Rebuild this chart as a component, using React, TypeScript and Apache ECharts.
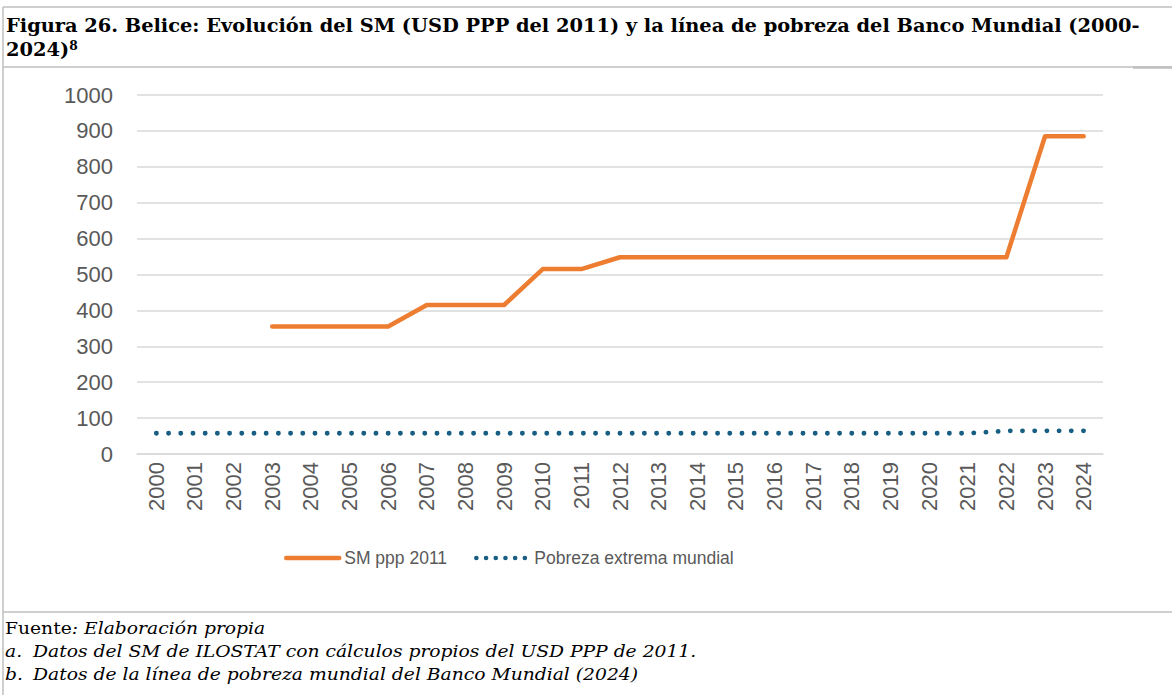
import React, { useEffect, useRef } from "react";
import * as echarts from "echarts";

const years = [
  "2000", "2001", "2002", "2003", "2004", "2005", "2006", "2007", "2008", "2009",
  "2010", "2011", "2012", "2013", "2014", "2015", "2016", "2017", "2018", "2019",
  "2020", "2021", "2022", "2023", "2024",
];

const smPpp2011 = [
  null, null, null, 355, 355, 355, 355, 415, 415, 415,
  515, 515, 548, 548, 548, 548, 548, 548, 548, 548,
  548, 548, 548, 885, 885,
];

const pobrezaExtrema = [
  57.8, 57.8, 57.8, 57.8, 57.8, 57.8, 57.8, 57.8, 57.8, 57.8,
  57.8, 57.8, 57.8, 57.8, 57.8, 57.8, 57.8, 57.8, 57.8, 57.8,
  57.8, 57.8, 64.5, 64.5, 64.5,
];

const seriesNames = ["SM ppp 2011", "Pobreza extrema mundial"];

const titleLine1 =
  "Figura 26. Belice: Evolución del SM (USD PPP del 2011) y la línea de pobreza del Banco Mundial (2000-";
const titleLine2 = "2024)";
const titleSup = "8";
const sourceLabel = "Fuente";
const sourceText = ": Elaboración propia";
const noteA = "Datos del SM de ILOSTAT con cálculos propios del USD PPP de 2011.";
const noteB = "Datos de la línea de pobreza mundial del Banco Mundial (2024)";

function measure(text: string, font: string): number {
  const c = document.createElement("canvas");
  const ctx = c.getContext("2d");
  if (!ctx) return 1;
  ctx.font = font;
  return ctx.measureText(text).width || 1;
}

export default function App() {
  const ref = useRef<HTMLDivElement>(null);

  useEffect(() => {
    if (!ref.current) return;
    const chart = echarts.init(ref.current, undefined, { renderer: "svg" });

    const serif = '"DejaVu Serif", "Liberation Serif", serif';
    const sans = '"Liberation Sans", Arial, sans-serif';
    const titleSize = 19;
    const footSize = 17.5;
    const titleW = measure(titleLine1, `bold ${titleSize}px ${serif}`);
    const titleScale = (1140 - 6) / titleW;
    const footW = measure(noteA, `italic ${footSize}px ${serif}`);
    const footScale = (697 - 33) / footW;

    const border = "#BFBFBF";
    const textColor = "#000000";
    const orange = "#ED7D31";
    const blue = "#175E82";

    chart.setOption({
      animation: false,
      backgroundColor: "#ffffff",
      grid: { left: 137, right: 69, top: 95, bottom: 241 },
      legend: {
        left: 279,
        top: 544,
        itemWidth: 53,
        itemHeight: 14,
        itemGap: 27,
        textStyle: { fontFamily: sans, fontSize: 17.5, color: "#595959" },
        data: [
          {
            name: seriesNames[0],
            itemStyle: { opacity: 0 },
            lineStyle: { color: orange, width: 4.5, cap: "round" },
          },
          {
            name: seriesNames[1],
            itemStyle: { opacity: 0 },
            lineStyle: { color: blue, width: 4.5, type: [0.1, 9.6], cap: "round" },
          },
        ],
      },
      xAxis: {
        type: "category",
        data: years,
        boundaryGap: true,
        axisLine: { show: true, lineStyle: { color: "#D9D9D9", width: 1.5 } },
        axisTick: { show: false },
        axisLabel: {
          rotate: 90,
          margin: 8,
          fontSize: 22,
          fontFamily: sans,
          color: "#595959",
          interval: 0,
        },
        splitLine: { show: false },
      },
      yAxis: {
        type: "value",
        min: 0,
        max: 1000,
        interval: 100,
        axisLine: { show: false },
        axisTick: { show: false },
        axisLabel: {
          margin: 24,
          fontSize: 22,
          fontFamily: sans,
          color: "#595959",
          formatter: (v: number) => String(v),
        },
        splitLine: { show: true, lineStyle: { color: "#D9D9D9", width: 1.5 } },
      },
      series: [
        {
          name: seriesNames[0],
          type: "line",
          data: smPpp2011,
          symbol: "none",
          connectNulls: false,
          color: orange,
          lineStyle: { color: orange, width: 4.5, cap: "round", join: "round" },
        },
        {
          name: seriesNames[1],
          type: "line",
          data: pobrezaExtrema,
          symbol: "none",
          color: blue,
          lineStyle: { color: blue, width: 4.8, type: [0.1, 12.1], cap: "round", join: "round" },
        },
      ],
      graphic: [
        { type: "line", shape: { x1: 3, y1: 7, x2: 1172, y2: 7 }, style: { stroke: border, lineWidth: 1.5 } },
        { type: "line", shape: { x1: 3, y1: 7, x2: 3, y2: 695 }, style: { stroke: border, lineWidth: 1.5 } },
        { type: "line", shape: { x1: 3, y1: 67, x2: 1172, y2: 67 }, style: { stroke: border, lineWidth: 1.5 } },
        { type: "line", shape: { x1: 1133, y1: 67.5, x2: 1172, y2: 67.5 }, style: { stroke: border, lineWidth: 2.5 } },
        { type: "line", shape: { x1: 3, y1: 612, x2: 1172, y2: 612 }, style: { stroke: border, lineWidth: 1.5 } },
        {
          type: "text",
          x: 6,
          y: 26,
          scaleX: titleScale,
          style: {
            text: titleLine1,
            fontFamily: serif,
            fontWeight: "bold",
            fontSize: titleSize,
            fill: textColor,
            align: "left",
            verticalAlign: "middle",
          },
        },
        {
          type: "text",
          x: 6,
          y: 50,
          scaleX: titleScale,
          style: {
            text: `{b|${titleLine2}}{s|${titleSup}}`,
            align: "left",
            verticalAlign: "middle",
            rich: {
              b: { fontFamily: serif, fontWeight: "bold", fontSize: titleSize, fill: textColor, color: textColor },
              s: {
                fontFamily: serif,
                fontWeight: "bold",
                fontSize: 12,
                fill: textColor,
                color: textColor,
                verticalAlign: "top",
              },
            },
          },
        },
        {
          type: "text",
          x: 5,
          y: 628,
          scaleX: footScale,
          style: {
            text: `{r|${sourceLabel}}{i|${sourceText}}`,
            align: "left",
            verticalAlign: "middle",
            rich: {
              r: { fontFamily: serif, fontSize: footSize, fill: textColor, color: textColor },
              i: { fontFamily: serif, fontStyle: "italic", fontSize: footSize, fill: textColor, color: textColor },
            },
          },
        },
        {
          type: "text",
          x: 5,
          y: 651,
          scaleX: footScale,
          style: { text: "a.", fontFamily: serif, fontStyle: "italic", fontSize: footSize, fill: textColor, align: "left", verticalAlign: "middle" },
        },
        {
          type: "text",
          x: 33,
          y: 651,
          scaleX: footScale,
          style: { text: noteA, fontFamily: serif, fontStyle: "italic", fontSize: footSize, fill: textColor, align: "left", verticalAlign: "middle" },
        },
        {
          type: "text",
          x: 5,
          y: 674,
          scaleX: footScale,
          style: { text: "b.", fontFamily: serif, fontStyle: "italic", fontSize: footSize, fill: textColor, align: "left", verticalAlign: "middle" },
        },
        {
          type: "text",
          x: 33,
          y: 674,
          scaleX: footScale,
          style: { text: noteB, fontFamily: serif, fontStyle: "italic", fontSize: footSize, fill: textColor, align: "left", verticalAlign: "middle" },
        },
      ],
    });

    return () => {
      chart.dispose();
    };
  }, []);

  return (
    <div
      ref={ref}
      style={{ position: "fixed", left: 0, top: 0, width: 1172, height: 695, background: "#fff" }}
    />
  );
}
